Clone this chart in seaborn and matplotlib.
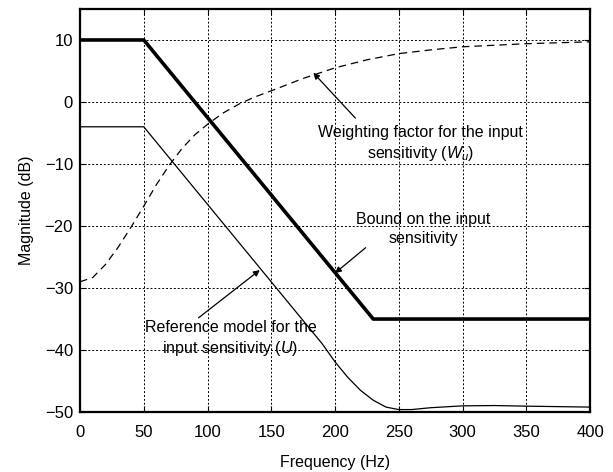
import matplotlib
matplotlib.use('Agg')
import matplotlib.pyplot as plt
import seaborn as sns
import numpy as np

# Bound on the input sensitivity
bound_f = [0, 50, 230, 400]
bound_db = [10, 10, -35, -35]

# Reference model for the input sensitivity (U)
ref_f = [0, 50, 180, 190, 200, 210, 220, 230, 240, 250, 260, 275, 300, 325, 350, 400]
ref_db = [-4, -4, -36.5, -39.0, -41.9, -44.4, -46.5, -48.1, -49.2, -49.6, -49.6,
          -49.3, -49.0, -48.95, -49.05, -49.2]

# Weighting factor for the input sensitivity (Wu)
w_f = [0, 10, 20, 30, 40, 50, 60, 70, 80, 90, 100, 112, 125, 137, 150, 175, 200,
       225, 250, 275, 300, 350, 400]
w_db = [-29, -28.3, -26.2, -23.4, -20.2, -16.8, -13.3, -10.2, -7.5, -5.3, -3.6,
        -1.8, -0.3, 0.8, 1.8, 3.8, 5.5, 6.8, 7.8, 8.4, 8.9, 9.4, 9.7]

sns.set_style("ticks")
plt.rcParams['font.family'] = ['Liberation Sans', 'DejaVu Sans']
plt.rcParams['mathtext.fontset'] = 'custom'
plt.rcParams['mathtext.it'] = 'Liberation Sans:italic'
plt.rcParams['mathtext.rm'] = 'Liberation Sans'
plt.rcParams['text.color'] = 'black'
plt.rcParams['axes.labelcolor'] = 'black'

fig = plt.figure(figsize=(6.13, 4.72), dpi=100)
ax = fig.add_axes([0.1305, 0.127, 0.832, 0.854])

sns.lineplot(x=bound_f, y=bound_db, ax=ax, color='black', linewidth=2.6)
sns.lineplot(x=ref_f, y=ref_db, ax=ax, color='black', linewidth=0.9)
sns.lineplot(x=w_f, y=w_db, ax=ax, color='black', linewidth=0.9,
             linestyle=(0, (6, 4)))

ax.set_xlim(0, 400)
ax.set_ylim(-50, 15)
ax.set_xticks(np.arange(0, 401, 50))
ax.set_yticks(np.arange(-50, 11, 10))
ax.set_yticklabels([str(v).replace('-', '\u2212') for v in range(-50, 11, 10)])
ax.grid(True, color='black', linestyle=(0, (2, 2)), linewidth=0.7)
ax.tick_params(direction='in', top=True, right=True, labelsize=12, length=4,
               width=0.8, colors='black')
ax.tick_params(axis='x', pad=9)
ax.tick_params(axis='y', pad=5)
for s in ax.spines.values():
    s.set_color('black')
    s.set_linewidth(1.6)

ax.set_xlabel('Frequency (Hz)', fontsize=11.5, labelpad=11)
ax.set_ylabel('Magnitude (dB)', fontsize=11.5, labelpad=8)

arrow = dict(arrowstyle='-|>', color='black', lw=0.9, mutation_scale=9,
             shrinkA=0, shrinkB=0)
ax.annotate('Weighting factor for the input\nsensitivity ($W_{u}$)',
            xy=(183, 4.7), xytext=(267, -6.8), ha='center', va='center',
            fontsize=11.5, linespacing=1.3)
ax.annotate('', xy=(183, 4.7), xytext=(216, -2.6), arrowprops=arrow)
ax.annotate('Bound on the input\nsensitivity',
            xy=(200, -27.6), xytext=(269, -20.5), ha='center', va='center',
            fontsize=11.5, linespacing=1.3)
ax.annotate('', xy=(200, -27.6), xytext=(224, -23.5), arrowprops=arrow)
ax.annotate('Reference model for the\ninput sensitivity ($U$)',
            xy=(141, -27.1), xytext=(118, -38.2), ha='center', va='center',
            fontsize=11.5, linespacing=1.3)
ax.annotate('', xy=(141, -27.1), xytext=(93, -34.8), arrowprops=arrow)

fig.savefig('out.png', dpi=100)
